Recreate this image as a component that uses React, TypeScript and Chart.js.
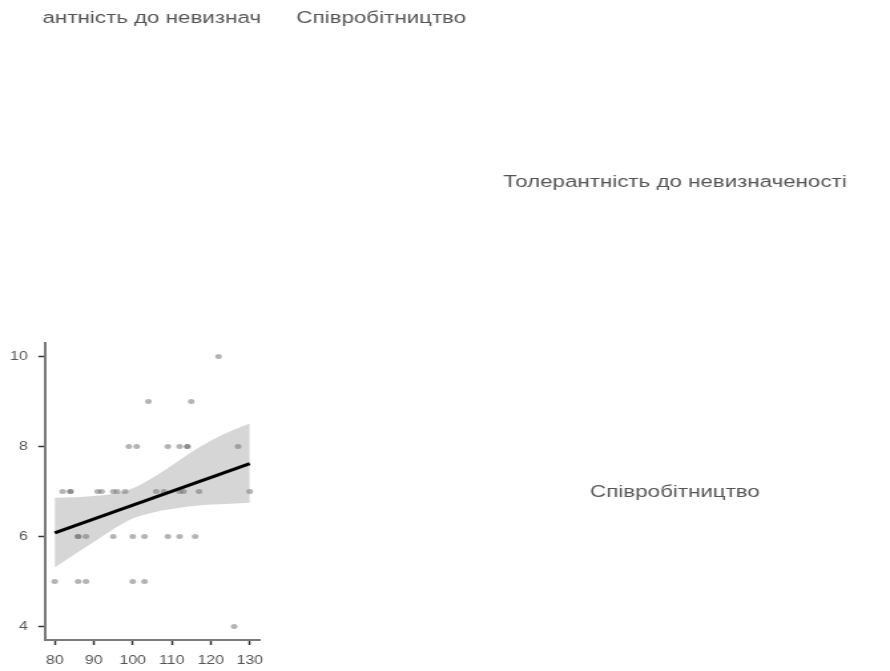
import React, { useEffect, useRef } from "react";
import { Chart, registerables } from "chart.js";

Chart.register(...registerables);

// ---------- data ----------
const tolerance = [
  122,
  104, 115,
  99, 101, 109, 112, 114, 114, 127,
  82, 84, 84, 91, 92, 95, 96, 98, 106, 108, 112, 113, 117, 130,
  86, 86, 88, 95, 100, 103, 109, 112, 116,
  80, 86, 88, 100, 103,
  126,
];
const cooperation = [
  10,
  9, 9,
  8, 8, 8, 8, 8, 8, 8,
  7, 7, 7, 7, 7, 7, 7, 7, 7, 7, 7, 7, 7, 7,
  6, 6, 6, 6, 6, 6, 6, 6, 6,
  5, 5, 5, 5, 5,
  4,
];
const fitX = [80, 130];
const fitY = [6.08, 7.62];
const bandX = [80, 85, 90, 95, 100, 105, 110, 115, 120, 125, 130];
const bandUpper = [6.86, 6.87, 6.9, 6.95, 7.07, 7.3, 7.58, 7.87, 8.13, 8.34, 8.51];
const bandLower = [5.31, 5.6, 5.88, 6.16, 6.4, 6.53, 6.61, 6.67, 6.71, 6.73, 6.75];
const xTicks = [80, 90, 100, 110, 120, 130];
const yTicks = [4, 6, 8, 10];
const panelTexts = [
  "Толерантність до невизначеності",
  "Співробітництво",
  "Толерантність до невизначеності",
  "Співробітництво",
];

// ---------- layout (page px) ----------
const PAGE_W = 890;
const H = 671;
const W = 669; // canvas drawing width, stretched to PAGE_W
const S = PAGE_W / W;
const AREA = { left: 45, right: 259.5, top: 343, bottom: 640 };
const LABEL_POS = [
  { cx: 152.7, base: 23.3, clip: [42, 262] },
  { cx: 381.3, base: 23.3, clip: null },
  { cx: 675, base: 187.3, clip: null },
  { cx: 675, base: 497.3, clip: null },
];
const FONT = '"Liberation Sans", Arial, sans-serif';

const labelPlugin = {
  id: "panelLabels",
  afterDraw(chart: any) {
    const ctx = chart.ctx as CanvasRenderingContext2D;
    ctx.save();
    ctx.font = `16.8px ${FONT}`;
    ctx.fillStyle = "#555";
    ctx.textAlign = "center";
    ctx.textBaseline = "alphabetic";
    panelTexts.forEach((t, i) => {
      const p = LABEL_POS[i];
      ctx.save();
      if (p.clip) {
        ctx.beginPath();
        ctx.rect(p.clip[0] / S, 0, (p.clip[1] - p.clip[0]) / S, H);
        ctx.clip();
      }
      ctx.fillText(t, p.cx / S, p.base);
      ctx.restore();
    });
    ctx.restore();
  },
};

export default function App() {
  const ref = useRef<HTMLCanvasElement | null>(null);

  useEffect(() => {
    if (!ref.current) return;
    const points = tolerance.map((x, i) => ({ x, y: cooperation[i] }));
    const fit = fitX.map((x, i) => ({ x, y: fitY[i] }));
    const upper = bandX.map((x, i) => ({ x, y: bandUpper[i] }));
    const lower = bandX.map((x, i) => ({ x, y: bandLower[i] }));

    const tickFont = { family: FONT, size: 12 };
    const chart = new Chart(ref.current, {
      type: "scatter",
      data: {
        datasets: [
          {
            type: "line",
            data: fit,
            borderColor: "#000",
            borderWidth: 3,
            pointRadius: 0,
            fill: false,
          } as any,
          {
            type: "scatter",
            data: points,
            backgroundColor: "rgba(105,105,105,0.5)",
            borderWidth: 0,
            pointRadius: 2.5,
            pointHoverRadius: 2.5,
          },
          {
            type: "line",
            data: upper,
            borderWidth: 0,
            borderColor: "rgba(0,0,0,0)",
            pointRadius: 0,
            fill: false,
            cubicInterpolationMode: "monotone",
          } as any,
          {
            type: "line",
            data: lower,
            borderWidth: 0,
            borderColor: "rgba(0,0,0,0)",
            backgroundColor: "#d6d6d6",
            pointRadius: 0,
            fill: "-1",
            cubicInterpolationMode: "monotone",
          } as any,
        ],
      },
      options: {
        animation: false,
        responsive: false,
        maintainAspectRatio: false,
        devicePixelRatio: 1,
        events: [],
        layout: {
          padding: { left: 0, top: AREA.top, right: W - AREA.right / S, bottom: 0 },
        },
        plugins: {
          legend: { display: false },
          tooltip: { enabled: false },
          title: { display: false },
        },
        scales: {
          x: {
            type: "linear",
            min: 77.5,
            max: 132.5,
            afterBuildTicks: (s: any) => {
              s.ticks = xTicks.map((v) => ({ value: v }));
            },
            afterFit: (s: any) => {
              s.height = H - AREA.bottom;
            },
            ticks: {
              color: "#555",
              font: tickFont,
              padding: 8,
              maxRotation: 0,
              autoSkip: false,
            },
            grid: {
              display: true,
              drawOnChartArea: false,
              drawTicks: true,
              tickLength: 5,
              tickColor: "#333",
              tickWidth: 1.5,
            },
            border: { display: true, color: "#7a7a7a", width: 2 },
          },
          y: {
            type: "linear",
            min: 3.7,
            max: 10.3,
            afterBuildTicks: (s: any) => {
              s.ticks = yTicks.map((v) => ({ value: v }));
            },
            afterFit: (s: any) => {
              s.width = AREA.left / S;
            },
            ticks: {
              color: "#555",
              font: tickFont,
              padding: 8,
              autoSkip: false,
            },
            grid: {
              display: true,
              drawOnChartArea: false,
              drawTicks: true,
              tickLength: 5,
              tickColor: "#333",
              tickWidth: 1.5,
            },
            border: { display: true, color: "#7a7a7a", width: 2 },
          },
        },
      },
      plugins: [labelPlugin],
    });
    return () => chart.destroy();
  }, []);

  return (
    <div style={{ position: "absolute", left: 0, top: 0, width: PAGE_W, height: H, background: "#fff" }}>
      <canvas
        ref={ref}
        width={W}
        height={H}
        style={{ width: `${PAGE_W}px`, height: `${H}px`, display: "block" }}
      />
    </div>
  );
}
